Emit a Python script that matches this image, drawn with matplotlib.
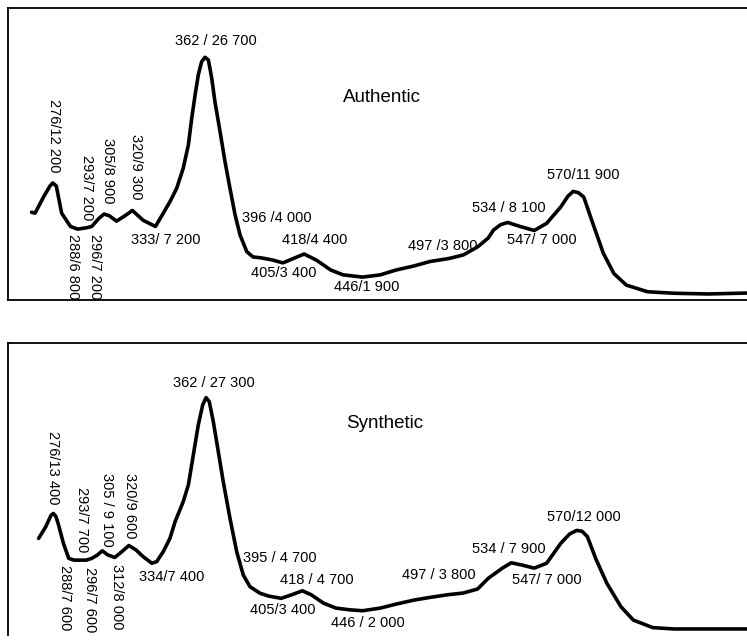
import matplotlib
matplotlib.use('Agg')
import matplotlib.pyplot as plt

# absorption spectra (wavelength nm / molar absorptivity)
auth_nm = [264, 266, 271, 274.4, 276, 278, 281, 286, 290, 295, 298, 302, 305, 308,
           312, 316, 321, 327, 334, 338.4, 342.2, 346, 349.7, 352.6, 354.5, 356.4, 358.2, 360.1,
           362, 363.9, 365.8, 367.6, 370.5, 373.3, 376.1, 379, 381.8, 385.6, 389.1, 394.2, 400,
           406, 412, 418, 425, 433, 440, 451, 461, 470,
           480, 489, 500, 508, 516, 522, 525, 529, 533, 540, 548, 555, 563, 567,
           570, 573, 576, 581, 587, 593, 600, 612, 627, 646, 668]
auth_eps = [9200, 9100, 11000, 12150, 12500, 12150, 9100, 7600, 7300, 7450, 7600, 8500, 9000, 8800,
            8200, 8700, 9400, 8300, 7600, 9090, 10390, 11900, 14160, 16780, 19790, 22410, 24660, 26160,
            26650, 26350, 24290, 21660, 18280, 14900, 11900, 8900, 6640, 4760, 4170, 4050, 3830,
            3500, 4000, 4500, 3800, 2700, 2150, 1900, 2150, 2700,
            3150, 3650, 4000, 4400, 5300, 6300, 7200, 7800, 8050, 7600, 7150, 7950, 9800, 11000,
            11550, 11400, 10900, 8000, 4600, 2300, 1000, 250, 80, 0, 100]

syn_nm = [268, 272, 275, 276.3, 277.7, 279, 282, 285, 288, 295, 298, 301, 304, 307, 311,
          315, 319, 323, 327, 332, 334.7, 338.4, 342.2, 345.1, 349.7, 352.6, 355.4, 358.2, 360.7,
          362.6, 364.4, 366.7, 369.5, 372.3, 376.1, 379.9, 383.6, 387.4, 393.1, 398,
          405, 411, 417, 422, 429, 436, 444,
          451, 461, 470, 480, 489, 499, 508, 516, 522, 530, 535, 541, 548, 555,
          563, 568, 572, 575, 578, 583, 589, 597, 604, 615, 627, 645, 668]
syn_eps = [10200, 11500, 12800, 13000, 12700, 11900, 9650, 7950, 7750, 7750, 7950, 8300, 8800, 8350, 8050,
           8700, 9400, 8900, 8150, 7400, 7580, 8700, 10210, 12080, 14340, 16220, 19590, 22970, 25230,
           26050, 25600, 23340, 19970, 16590, 12470, 8700, 6080, 4760, 4020, 3700,
           3450, 3850, 4300, 3850, 2900, 2350, 2150,
           2050, 2350, 2800, 3250, 3550, 3850, 4050, 4500, 5700, 6850, 7450, 7200, 6850, 7400,
           9650, 10700, 11100, 11000, 10400, 7800, 5150, 2500, 1000, 150, 0, 0, 0]

auth_labels = [
    ('362 / 26 700', 216, 41, 0), ('276/12 200', 54, 136, 270), ('293/7 200', 87, 188, 270),
    ('305/8 900', 108, 171, 270), ('320/9 300', 136, 167, 270), ('288/6 800', 73, 267, 270),
    ('296/7 200', 95, 267, 270), ('333/ 7 200', 166, 240, 0), ('396 /4 000', 277, 218, 0),
    ('418/4 400', 315, 240, 0), ('405/3 400', 284, 273, 0), ('446/1 900', 367, 287, 0),
    ('497 /3 800', 443, 246, 0), ('534 / 8 100', 509, 208, 0), ('547/ 7 000', 542, 240, 0),
    ('570/11 900', 583, 175, 0),
]
syn_labels = [
    ('362 / 27 300', 214, 383, 0), ('276/13 400', 53, 468, 270), ('293/7 700', 82, 520, 270),
    ('305 / 9 100', 107, 510, 270), ('320/9 600', 130, 506, 270), ('288/7 600', 65, 598, 270),
    ('296/7 600', 90, 600, 270), ('312/8 000', 117, 597, 270), ('334/7 400', 172, 577, 0),
    ('395 / 4 700', 280, 558, 0), ('418 / 4 700', 317, 580, 0), ('405/3 400', 283, 610, 0),
    ('446 / 2 000', 368, 623, 0), ('497 / 3 800', 439, 575, 0), ('534 / 7 900', 509, 549, 0),
    ('547/ 7 000', 547, 580, 0), ('570/12 000', 584, 517, 0),
]

plt.rcParams['font.family'] = ['Liberation Sans', 'DejaVu Sans']

W, H = 747, 640
fig = plt.figure(figsize=(W / 100, H / 100), dpi=100)

def panel(top_px, bottom_px):
    ax = fig.add_axes([8 / W, 1 - bottom_px / H, 1 - 8 / W, (bottom_px - top_px) / H])
    ax.set_xlim(250.7, 668.2)
    ax.set_ylim(-680, 32200)
    ax.set_xticks([])
    ax.set_yticks([])
    ax.spines['right'].set_visible(False)
    for s in ax.spines.values():
        s.set_linewidth(1.3)
    return ax

ax1 = panel(8, 300)
ax1.plot(auth_nm, auth_eps, color='black', lw=2.6, solid_joinstyle='round', solid_capstyle='round')

ax2 = panel(343, 635)
ax2.spines['bottom'].set_visible(False)
ax2.plot(syn_nm, syn_eps, color='black', lw=2.6, solid_joinstyle='round', solid_capstyle='round')

for txt, x, y, rot in auth_labels + syn_labels:
    fig.text(x / W, 1 - y / H, txt, ha='center', va='center', rotation=rot, fontsize=10.5)

fig.text(382 / W, 1 - 97 / H, 'Authentic', ha='center', va='center', fontsize=13.5)
fig.text(385 / W, 1 - 424 / H, 'Synthetic', ha='center', va='center', fontsize=13.5)

fig.savefig('out.png', dpi=100)
